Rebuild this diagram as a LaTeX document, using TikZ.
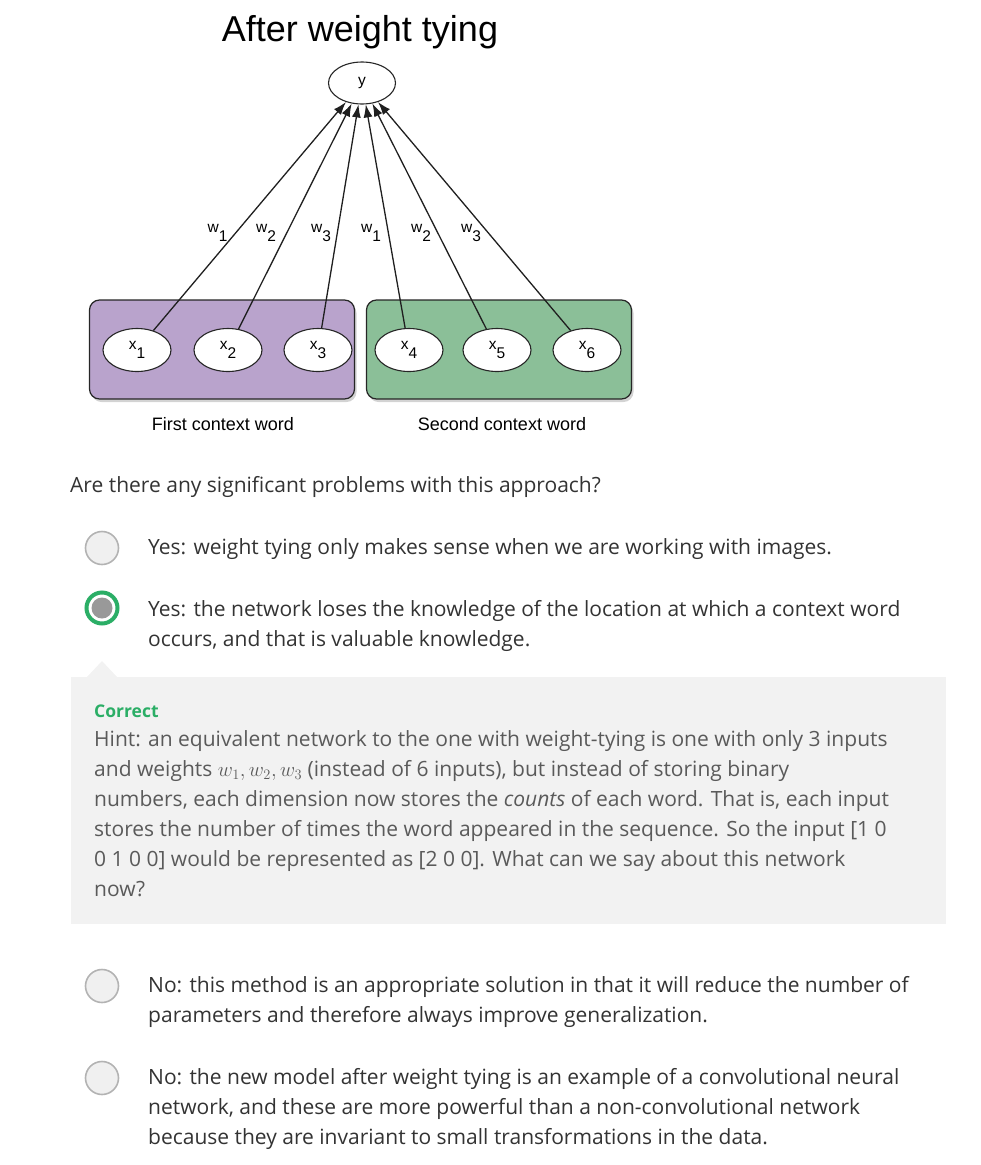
\documentclass[tikz,border=0pt]{standalone}
\usepackage{fontspec}
\setmainfont{Open Sans}
\newfontfamily\diagfont{Liberation Sans}
\usetikzlibrary{arrows.meta,shapes.geometric,shadows}
\definecolor{purplebox}{HTML}{B9A3CC}
\definecolor{greenbox}{HTML}{8BBF98}
\definecolor{textdark}{HTML}{333333}
\definecolor{texthint}{HTML}{5A5A5A}
\definecolor{okgreen}{HTML}{2BAE66}
\definecolor{radiofill}{HTML}{F0F0F0}
\definecolor{radioedge}{HTML}{B3B3B3}
\definecolor{radioin}{HTML}{999999}
\definecolor{hintbg}{HTML}{F2F2F2}
\newcommand\lowsub[1]{\raisebox{-9pt}{#1}}
\begin{document}
\begin{tikzpicture}[x=1pt,y=-1pt,
  ctxbox/.style={draw=black!85, line width=1.2pt, rounded corners=10pt,
    minimum width=265pt, minimum height=99pt, inner sep=0pt,
    drop shadow={shadow xshift=2pt, shadow yshift=-3pt, opacity=0.35}},
  unit/.style={ellipse, draw=black!85, line width=1.1pt, fill=white,
    minimum width=68pt, minimum height=43pt, inner sep=0pt,
    font=\diagfont\fontsize{15.5}{15.5}\selectfont},
  edge/.style={draw=black!88, line width=1.3pt, -{Latex[length=13pt,width=9pt]}},
  wlab/.style={inner sep=0pt, anchor=base, font=\diagfont\fontsize{15.5}{15.5}\selectfont},
  captext/.style={inner sep=0pt, anchor=base, font=\diagfont\fontsize{18}{18}\selectfont},
  txt/.style={inner sep=0pt, anchor=base west, text=textdark, font=\fontsize{21}{30}\selectfont},
  hint/.style={inner sep=0pt, anchor=base west, text=texthint, font=\fontsize{21}{30}\selectfont},
  radio/.style={circle, draw=radioedge, line width=1.6pt, fill=radiofill, minimum size=33pt, inner sep=0pt},
  radiosel/.style={circle, draw=okgreen, line width=4pt, fill=white, minimum size=31pt, inner sep=0pt},
  radiodot/.style={circle, fill=radioin, minimum size=21pt, inner sep=0pt}
]
\useasboundingbox (0,0) rectangle (981,1165);

% title
\node[inner sep=0pt, anchor=base, font=\diagfont\fontsize{36}{36}\selectfont] (title) at (360,41) {After weight tying};

% context boxes
\node[ctxbox, fill=purplebox] (b1) at (222,349.5) {};
\node[ctxbox, fill=greenbox] (b2) at (499,349.5) {};

% units
\node[unit] (x1) at (137,350) {x\lowsub{1}};
\node[unit] (x2) at (228,350) {x\lowsub{2}};
\node[unit] (x3) at (318,350) {x\lowsub{3}};
\node[unit] (x4) at (409,350) {x\lowsub{4}};
\node[unit] (x5) at (497,350) {x\lowsub{5}};
\node[unit] (x6) at (587,350) {x\lowsub{6}};
\node[unit, minimum width=67pt, minimum height=42pt] (y) at (362,83) {\raisebox{-2pt}{y}};

\foreach \i in {1,...,6} \draw[edge] (x\i) -- (y);

% weight labels
\node[wlab] (l1) at (217.5,232) {w\lowsub{1}};
\node[wlab] (l2) at (266,232) {w\lowsub{2}};
\node[wlab] (l3) at (321,232) {w\lowsub{3}};
\node[wlab] (l4) at (371,232) {w\lowsub{1}};
\node[wlab] (l5) at (421,232) {w\lowsub{2}};
\node[wlab] (l6) at (471,232) {w\lowsub{3}};

% captions
\node[captext] (c1) at (223,430) {First context word};
\node[captext] (c2) at (502,430) {Second context word};

% question
\node[txt] (q) at (70,492) {Are there any significant problems with this approach?};

% option 1
\node[radio] (r1) at (102,548) {};
\node[txt] (o1) at (148,554) {Yes: weight tying only makes sense when we are working with images.};

% option 2 (selected)
\node[radiosel] (r2) at (102,608) {};
\node[radiodot] (r2d) at (r2.center) {};
\node[txt] (o2a) at (148,616) {Yes: the network loses the knowledge of the location at which a context word};
\node[txt] (o2b) at (148,646) {occurs, and that is valuable knowledge.};

% feedback box
\fill[hintbg] (71,677) rectangle (946,924);
\fill[hintbg] (87,677) -- (102,661) -- (117,677) -- cycle;
\node[inner sep=0pt, anchor=base west, text=okgreen, font=\bfseries\fontsize{17.5}{20}\selectfont] (ok) at (94,717) {Correct};
\node[hint] (h1) at (94,746) {Hint: an equivalent network to the one with weight-tying is one with only 3 inputs};
\node[hint] (h2) at (94,776) {and weights $w_1, w_2, w_3$ (instead of 6 inputs), but instead of storing binary};
\node[hint] (h3) at (94,806) {numbers, each dimension now stores the \textit{counts} of each word. That is, each input};
\node[hint] (h4) at (94,836) {stores the number of times the word appeared in the sequence. So the input [1 0};
\node[hint] (h5) at (94,866) {0 1 0 0] would be represented as [2 0 0]. What can we say about this network};
\node[hint] (h6) at (94,896) {now?};

% option 3
\node[radio] (r3) at (102,986) {};
\node[txt] (o3a) at (148,992) {No: this method is an appropriate solution in that it will reduce the number of};
\node[txt] (o3b) at (148,1022) {parameters and therefore always improve generalization.};

% option 4
\node[radio] (r4) at (102,1078) {};
\node[txt] (o4a) at (148,1084) {No: the new model after weight tying is an example of a convolutional neural};
\node[txt] (o4b) at (148,1114) {network, and these are more powerful than a non-convolutional network};
\node[txt] (o4c) at (148,1144) {because they are invariant to small transformations in the data.};
\end{tikzpicture}
\end{document}
